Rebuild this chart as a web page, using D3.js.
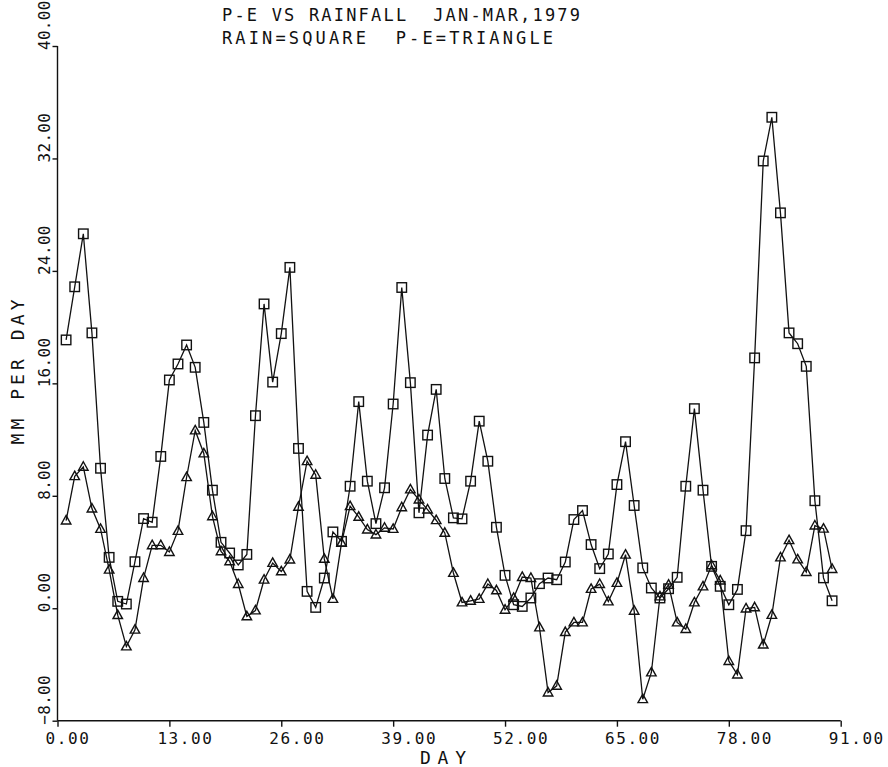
<!DOCTYPE html>
<html>
<head>
<meta charset="utf-8">
<script src="https://cdn.jsdelivr.net/npm/d3@7/dist/d3.min.js"></script>
<style>
  html, body { margin: 0; padding: 0; background: #fff; }
  svg { display: block; }
  text { font-family: "DejaVu Sans Mono", "Liberation Mono", monospace; fill: #111; white-space: pre; }
</style>
</head>
<body>
<svg id="chart" width="888" height="767"></svg>
<script>
// ---- data ----
const days = [1,2,3,4,5,6,7,8,9,10,11,12,13,14,15,16,17,18,19,20,21,22,23,24,25,26,27,28,29,30,
  31,32,33,34,35,36,37,38,39,40,41,42,43,44,45,46,47,48,49,50,51,52,53,54,55,56,57,58,59,60,
  61,62,63,64,65,66,67,68,69,70,71,72,73,74,75,76,77,78,79,80,81,82,83,84,85,86,87,88,89,90];
const rain = [19.09,22.87,26.64,19.59,9.96,3.62,0.49,0.30,3.31,6.38,
  6.12,10.8,16.24,17.38,18.73,17.14,13.22,8.40,4.69,3.93,
  3.08,3.83,13.70,21.65,16.09,19.54,24.25,11.37,1.20,0.06,
  2.15,5.43,4.76,8.68,14.70,9.04,6.02,8.57,14.53,22.82,
  16.05,6.79,12.32,15.57,9.23,6.43,6.36,9.04,13.31,10.46,
  5.76,2.34,0.25,0.13,0.73,1.75,2.15,2.03,3.29,6.31,
  6.95,4.53,2.82,3.86,8.80,11.85,7.31,2.87,1.44,0.73,
  1.39,2.20,8.68,14.20,8.40,2.98,1.56,0.25,1.34,5.52,
  17.81,31.82,34.93,28.13,19.59,18.82,17.21,7.65,2.16,0.53];
const pe = [6.24,9.39,10.06,7.09,5.64,2.74,-0.49,-2.72,-1.53,2.15,
  4.48,4.48,4.0,5.50,9.32,12.65,11.01,6.54,4.05,3.34,
  1.72,-0.58,-0.16,2.03,3.22,2.62,3.46,7.21,10.46,9.49,
  3.51,0.66,4.65,7.26,6.50,5.60,5.24,5.72,5.64,7.18,
  8.45,7.73,7.02,6.26,5.36,2.51,0.41,0.53,0.66,1.72,
  1.27,-0.11,0.73,2.22,2.15,-1.37,-6.0,-5.52,-1.70,-1.01,
  -1.01,1.37,1.72,0.48,1.80,3.81,-0.18,-6.47,-4.57,0.84,
  1.67,-1.01,-1.48,0.41,1.55,3.05,1.97,-3.76,-4.72,-0.02,
  0.06,-2.59,-0.48,3.61,4.84,3.47,2.57,5.88,5.66,2.79];
const xTicks = [0,13,26,39,52,65,78,91];
const yTicks = [-8,0,8,16,24,32,40];
const titleLines = ["P-E VS RAINFALL  JAN-MAR,1979", "RAIN=SQUARE  P-E=TRIANGLE"];
const xTitle = "DAY";
const yTitle = "MM PER DAY";

// ---- drawing ----
const svg = d3.select("#chart");
const ink = "#111";
const x = d3.scaleLinear().domain([0, 91]).range([57.5, 840.7]);
const y = d3.scaleLinear().domain([-8, 40]).range([720.7, 46]);

// axes
const xAxis = d3.axisBottom(x).tickValues(xTicks).tickSize(6).tickFormat("");
const gx = svg.append("g").attr("transform", `translate(0,${y(-8)})`).call(xAxis);
const yAxis = d3.axisLeft(y).tickValues(yTicks).tickSize(5).tickFormat("");
const gy = svg.append("g").attr("transform", `translate(${x(0)},0)`).call(yAxis);
[gx, gy].forEach(g => {
  g.select(".domain").attr("stroke", ink).attr("stroke-width", 1.4)
    .attr("d", g === gx ? `M${x(0)},0H${x(91)}` : `M0,${y(-8)}V${y(40)}`);
  g.selectAll(".tick line").attr("stroke", ink).attr("stroke-width", 1.4);
});

const fmt = d3.format(".2f");
// x tick labels
svg.append("g").selectAll("text").data(xTicks).join("text")
  .attr("x", d => x(d) - 12)
  .attr("y", 744)
  .attr("text-anchor", "start")
  .attr("font-size", 16)
  .attr("letter-spacing", 1.6)
  .text(d => fmt(d));

// y tick labels (rotated)
svg.append("g").selectAll("text").data(yTicks).join("text")
  .attr("transform", d => `translate(50,${y(d) + 4}) rotate(-90)`)
  .attr("text-anchor", "start")
  .attr("font-size", 16)
  .attr("letter-spacing", 0.3)
  .text(d => fmt(d));

// titles
svg.append("g").selectAll("text").data(titleLines).join("text")
  .attr("x", 222)
  .attr("y", (d, i) => 21 + i * 23)
  .attr("font-size", 17)
  .attr("textLength", (d, i) => i === 0 ? 358 : 331)
  .attr("lengthAdjust", "spacing")
  .text(d => d);

svg.append("text")
  .attr("x", 443).attr("y", 764)
  .attr("text-anchor", "middle")
  .attr("font-size", 18)
  .attr("textLength", 46).attr("lengthAdjust", "spacing")
  .text(xTitle);

svg.append("text")
  .attr("transform", `translate(24,${372}) rotate(-90)`)
  .attr("text-anchor", "middle")
  .attr("font-size", 18)
  .attr("textLength", 145).attr("lengthAdjust", "spacing")
  .text(yTitle);

// series lines
const line = d3.line().x(d => x(d[0])).y(d => y(d[1]));
const rainPts = days.map((d, i) => [d, rain[i]]);
const pePts = days.map((d, i) => [d, pe[i]]);

svg.append("path").datum(rainPts).attr("d", line)
  .attr("fill", "none").attr("stroke", ink).attr("stroke-width", 1.3);
svg.append("path").datum(pePts).attr("d", line)
  .attr("fill", "none").attr("stroke", ink).attr("stroke-width", 1.3);

// square markers
const sq = 9.5;
svg.append("g").selectAll("rect").data(rainPts).join("rect")
  .attr("x", d => x(d[0]) - sq / 2)
  .attr("y", d => y(d[1]) - sq / 2)
  .attr("width", sq).attr("height", sq)
  .attr("fill", "none").attr("stroke", ink).attr("stroke-width", 1.4);

// triangle markers
const tw = 9.5, th = 8.5;
svg.append("g").selectAll("path").data(pePts).join("path")
  .attr("d", d => {
    const cx = x(d[0]), cy = y(d[1]);
    return `M${cx},${cy - th * 0.6}L${cx + tw / 2},${cy + th * 0.4}L${cx - tw / 2},${cy + th * 0.4}Z`;
  })
  .attr("fill", "none").attr("stroke", ink).attr("stroke-width", 1.4);
</script>
</body>
</html>
